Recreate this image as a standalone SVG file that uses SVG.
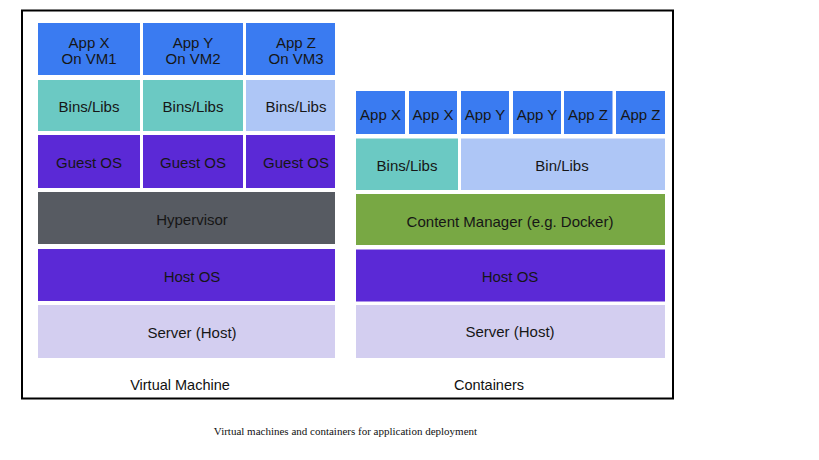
<svg xmlns="http://www.w3.org/2000/svg" width="819" height="460" viewBox="0 0 819 460">
<style>
.t{font-family:"Liberation Sans",Arial,sans-serif;font-size:15px;fill:#161616;text-anchor:middle}
.lb{font-family:"Liberation Sans",Arial,sans-serif;font-size:14.5px;fill:#111;text-anchor:middle}
.cap{font-family:"Liberation Serif","Times New Roman",serif;font-size:11px;fill:#111;text-anchor:middle}
.app{fill:#3a7bf1}
.teal{fill:#6bc9c3}
.lblue{fill:#aec6f6}
.purple{fill:#5b29d6}
.gray{fill:#575b62}
.lav{fill:#d3cef0}
.green{fill:#78a844}
</style>
<rect x="0" y="0" width="819" height="460" fill="#ffffff"/>
<rect x="22" y="10.5" width="651" height="388" fill="none" stroke="#000" stroke-width="2"/>

<g id="vm">
  <g id="vm-app-x"><rect class="app" x="38" y="23" width="102" height="52"/><text class="t" x="89" y="48">App X</text><text class="t" x="89" y="64">On VM1</text></g>
  <g id="vm-app-y"><rect class="app" x="143" y="23" width="100" height="52"/><text class="t" x="193" y="48">App Y</text><text class="t" x="193" y="64">On VM2</text></g>
  <g id="vm-app-z"><rect class="app" x="246" y="23" width="89" height="52"/><text class="t" x="296" y="48">App Z</text><text class="t" x="296" y="64">On VM3</text></g>
  <g id="vm-bins-1"><rect class="teal" x="38" y="80" width="102" height="51"/><text class="t" x="89" y="112">Bins/Libs</text></g>
  <g id="vm-bins-2"><rect class="teal" x="143" y="80" width="100" height="51"/><text class="t" x="193" y="112">Bins/Libs</text></g>
  <g id="vm-bins-3"><rect class="lblue" x="246" y="80" width="89" height="51"/><text class="t" x="296" y="112">Bins/Libs</text></g>
  <g id="vm-guest-1"><rect class="purple" x="38" y="135" width="102" height="53"/><text class="t" x="89" y="168">Guest OS</text></g>
  <g id="vm-guest-2"><rect class="purple" x="143" y="135" width="100" height="53"/><text class="t" x="193" y="168">Guest OS</text></g>
  <g id="vm-guest-3"><rect class="purple" x="246" y="135" width="89" height="53"/><text class="t" x="296" y="168">Guest OS</text></g>
  <g id="vm-hypervisor"><rect class="gray" x="38" y="192" width="297" height="52"/><text class="t" x="192" y="225">Hypervisor</text></g>
  <g id="vm-hostos"><rect class="purple" x="38" y="249" width="297" height="52"/><text class="t" x="192" y="282">Host OS</text></g>
  <g id="vm-server"><rect class="lav" x="38" y="305" width="297" height="53"/><text class="t" x="192" y="338">Server (Host)</text></g>
  <text class="lb" x="180" y="390">Virtual Machine</text>
</g>

<g id="containers">
  <g id="c-app-x1"><rect class="app" x="356" y="91" width="49" height="43"/><text class="t" x="380.5" y="119.5">App X</text></g>
  <g id="c-app-x2"><rect class="app" x="409" y="91" width="48" height="43"/><text class="t" x="433" y="119.5">App X</text></g>
  <g id="c-app-y1"><rect class="app" x="461" y="91" width="48" height="43"/><text class="t" x="485" y="119.5">App Y</text></g>
  <g id="c-app-y2"><rect class="app" x="513" y="91" width="48" height="43"/><text class="t" x="537" y="119.5">App Y</text></g>
  <g id="c-app-z1"><rect class="app" x="564" y="91" width="48.5" height="43"/><text class="t" x="588" y="119.5">App Z</text></g>
  <g id="c-app-z2"><rect class="app" x="616" y="91" width="49" height="43"/><text class="t" x="640.5" y="119.5">App Z</text></g>
  <g id="c-bins"><rect class="teal" x="356" y="138.5" width="102" height="51.5"/><text class="t" x="407" y="170.5">Bins/Libs</text></g>
  <g id="c-binlibs"><rect class="lblue" x="461" y="138.5" width="204" height="51.5"/><text class="t" x="562" y="170.5">Bin/Libs</text></g>
  <g id="c-manager"><rect class="green" x="356" y="194" width="309" height="51"/><text class="t" x="510" y="226.5">Content Manager (e.g. Docker)</text></g>
  <g id="c-hostos"><rect class="purple" x="356" y="249.5" width="309" height="52"/><text class="t" x="510" y="282">Host OS</text></g>
  <g id="c-server"><rect class="lav" x="356" y="305" width="309" height="53"/><text class="t" x="510" y="337">Server (Host)</text></g>
  <text class="lb" x="489" y="390">Containers</text>
</g>

<g id="connectors"></g>

<text class="cap" x="345.5" y="435">Virtual machines and containers for application deployment</text>
</svg>
